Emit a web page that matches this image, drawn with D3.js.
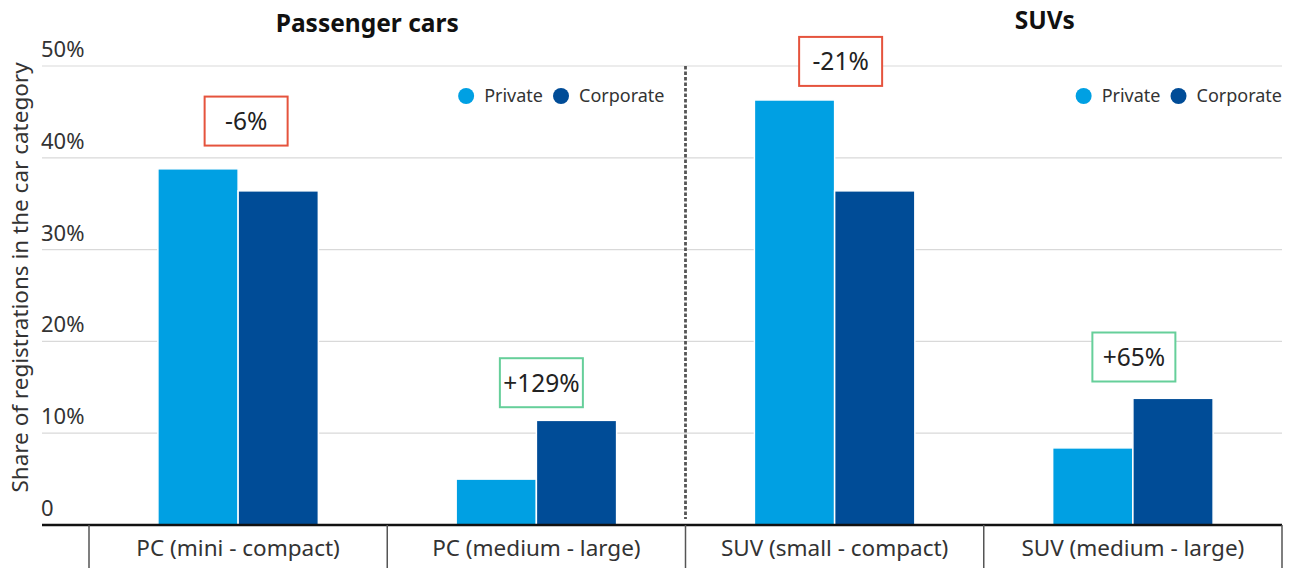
<!DOCTYPE html>
<html>
<head>
<meta charset="utf-8">
<script src="https://cdn.jsdelivr.net/npm/d3@7"></script>
<style>
  body { margin: 0; background: #fff; }
  svg text { font-family: "Noto Sans", "Open Sans", sans-serif; }
</style>
</head>
<body>
<svg id="chart" width="1291" height="568"></svg>
<script>
// data
const categories = ["PC (mini - compact)", "PC (medium - large)", "SUV (small - compact)", "SUV (medium - large)"];
const seriesNames = ["Private", "Corporate"];
const privateValues = [38.8, 5.0, 46.3, 8.4];
const corporateValues = [36.4, 11.4, 36.4, 13.8];
const yTicks = [0, 10, 20, 30, 40, 50];
const groupTitles = ["Passenger cars", "SUVs"];
const changeLabels = ["-6%", "+129%", "-21%", "+65%"];
const changeLevels = [44.0, 15.5, 50.5, 18.3]; // where the label box sits, in % units

const svg = d3.select("#chart");
const width = 1291, height = 568;
const margin = {left: 42, right: 9, top: 66, bottom: 43};
const plotLeft = 89; // category band start (small gap after the y labels)

const colors = d3.scaleOrdinal().domain(seriesNames).range(["#00a0e3", "#004c97"]);

const x0 = d3.scaleBand()
    .domain(categories)
    .range([plotLeft, width - margin.right])
    .paddingInner(0).paddingOuter(0);

const x1 = d3.scaleBand()
    .domain(seriesNames)
    .range([x0.bandwidth() * 0.231, x0.bandwidth() * 0.769])
    .padding(0);

const y = d3.scaleLinear()
    .domain([0, 50])
    .range([height - margin.bottom, margin.top]);

// grid
svg.append("g")
    .attr("class", "grid")
    .selectAll("line")
    .data(yTicks.filter(d => d > 0))
    .enter().append("line")
    .attr("x1", margin.left)
    .attr("x2", width - margin.right)
    .attr("y1", d => y(d))
    .attr("y2", d => y(d))
    .attr("stroke", "#d9d9d9")
    .attr("stroke-width", 1.2);

// y tick labels (sit above the grid line)
svg.append("g")
    .selectAll("text")
    .data(yTicks)
    .enter().append("text")
    .attr("x", margin.left - 1)
    .attr("y", d => y(d) - 9)
    .attr("font-size", 22)
    .attr("fill", "#333")
    .text(d => d === 0 ? "0" : d + "%");

// y label
svg.append("text")
    .attr("transform", `translate(28,${(y(0) + y(50)) / 2 - 18}) rotate(-90)`)
    .attr("text-anchor", "middle")
    .attr("font-size", 22.5)
    .attr("fill", "#333")
    .text("Share of registrations in the car category");

// bars
const data = categories.map((c, i) => ({
    name: c,
    values: [
        {key: seriesNames[0], value: privateValues[i]},
        {key: seriesNames[1], value: corporateValues[i]}
    ]
}));

const slice = svg.append("g")
    .attr("class", "chartBody")
    .selectAll(".slice")
    .data(data)
    .enter().append("g")
    .attr("class", "slice")
    .attr("transform", d => "translate(" + x0(d.name) + ",0)");

slice.selectAll("rect")
    .data(d => d.values)
    .enter().append("rect")
    .attr("x", d => x1(d.key))
    .attr("width", x1.bandwidth())
    .attr("y", d => y(d.value))
    .attr("height", d => y(0) - y(d.value))
    .attr("fill", d => colors(d.key))
    .attr("stroke", "#fff")
    .attr("stroke-width", 1.5);

// x axis line
svg.append("line")
    .attr("x1", margin.left)
    .attr("x2", width - margin.right)
    .attr("y1", y(0))
    .attr("y2", y(0))
    .attr("stroke", "#111")
    .attr("stroke-width", 2.5);

// category separators
const seps = categories.map(c => x0(c)).concat([x0.range()[1]]);
svg.append("g")
    .selectAll("line")
    .data(seps)
    .enter().append("line")
    .attr("x1", d => d).attr("x2", d => d)
    .attr("y1", y(0)).attr("y2", height)
    .attr("stroke", "#555")
    .attr("stroke-width", 1.5);

svg.append("g")
    .selectAll("text")
    .data(categories)
    .enter().append("text")
    .attr("x", d => x0(d) + x0.bandwidth() / 2)
    .attr("y", y(0) + 31)
    .attr("text-anchor", "middle")
    .attr("font-size", 22.5)
    .attr("fill", "#333")
    .text(d => d);

// dotted divider between groups
const midX = x0(categories[2]);
svg.append("line")
    .attr("x1", midX).attr("x2", midX)
    .attr("y1", y(50)).attr("y2", y(0) - 6)
    .attr("stroke", "#555")
    .attr("stroke-width", 2.8)
    .attr("stroke-dasharray", "3.5,2");

// group titles
const groupCenters = [
    (x0(categories[0]) + x0(categories[1]) + x0.bandwidth()) / 2 - 20,
    (x0(categories[2]) + x0(categories[3]) + x0.bandwidth()) / 2 + 61
];
svg.append("g")
    .selectAll("text")
    .data(groupTitles)
    .enter().append("text")
    .attr("x", (d, i) => groupCenters[i])
    .attr("y", (d, i) => i === 0 ? 32 : 29)
    .attr("text-anchor", "middle")
    .attr("font-size", 24.5)
    .attr("font-weight", "bold")
    .attr("fill", "#111")
    .text(d => d);

// legends (right aligned to each group's end)
const legendEnds = [x0(categories[1]) + x0.bandwidth() - 21, x0(categories[3]) + x0.bandwidth()];
legendEnds.forEach(end => {
    const g = svg.append("g").attr("transform", `translate(${end},96)`);
    const corpText = g.append("text")
        .attr("text-anchor", "end").attr("y", 6)
        .attr("font-size", 18).attr("fill", "#333")
        .text(seriesNames[1]);
    const cw = corpText.node().getComputedTextLength();
    g.append("circle").attr("cx", -cw - 18).attr("r", 8).attr("fill", colors(seriesNames[1]));
    const privText = g.append("text")
        .attr("text-anchor", "end").attr("x", -cw - 36).attr("y", 6)
        .attr("font-size", 18).attr("fill", "#333")
        .text(seriesNames[0]);
    const pw = privText.node().getComputedTextLength();
    g.append("circle").attr("cx", -cw - 36 - pw - 18).attr("r", 8).attr("fill", colors(seriesNames[0]));
});

// change annotations
const boxW = 83, boxH = 49;
const boxOffsets = [8, 5, 6, 1];
const ann = svg.append("g")
    .selectAll("g")
    .data(changeLabels)
    .enter().append("g")
    .attr("transform", (d, i) => `translate(${x0(categories[i]) + x0.bandwidth() / 2 + boxOffsets[i]},${y(changeLevels[i])})`);

ann.append("rect")
    .attr("x", -boxW / 2).attr("y", -boxH / 2)
    .attr("width", boxW).attr("height", boxH)
    .attr("fill", "#fff")
    .attr("stroke", d => d.startsWith("-") ? "#e5533d" : "#66cf9a")
    .attr("stroke-width", 2);

ann.append("text")
    .attr("text-anchor", "middle")
    .attr("y", 9)
    .attr("font-size", 24.5)
    .attr("fill", "#222")
    .text(d => d);
</script>
</body>
</html>
